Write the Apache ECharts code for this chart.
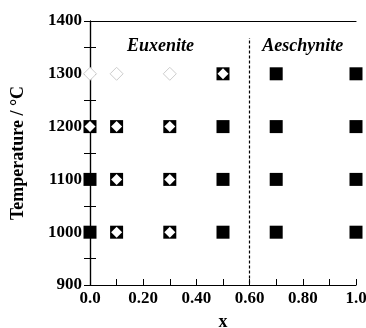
<!DOCTYPE html>
<html>
<head>
<meta charset="utf-8">
<script src="https://cdn.jsdelivr.net/npm/echarts@6/dist/echarts.min.js"></script>
<style>
  html, body { margin: 0; padding: 0; background: #fff; }
  #chart { width: 366px; height: 328px; }
</style>
</head>
<body>
<div id="chart"></div>
<script>
// single phase points (filled squares)
const filledPts = [
  [0.0, 1000], [0.0, 1100],
  [0.5, 1000], [0.5, 1100], [0.5, 1200],
  [0.7, 1000], [0.7, 1100], [0.7, 1200], [0.7, 1300],
  [1.0, 1000], [1.0, 1100], [1.0, 1200], [1.0, 1300]
]
// square with diamond
const mixedPts = [
  [0.0, 1200],
  [0.1, 1000], [0.1, 1100], [0.1, 1200],
  [0.3, 1000], [0.3, 1100], [0.3, 1200],
  [0.5, 1300]
]
// open diamonds (light)
const meltPts = [[0.0, 1300], [0.1, 1300], [0.3, 1300]]
const boundaryX = 0.6
const phaseLabels = [
  { name: 'Euxenite', coord: [0.265, 1352] },
  { name: 'Aeschynite', coord: [0.8, 1352] }
]

const font = 'Liberation Serif'
const chart = echarts.init(document.getElementById('chart'))

function axisLine() {
  return { show: true, lineStyle: { color: '#000', width: 1.2 } }
}
function tick() {
  // negative length draws the tick towards the plot
  return { show: true, length: -6, lineStyle: { color: '#000', width: 1 } }
}

const option = {
  animation: false,
  grid: { left: 90, right: 10, top: 21, bottom: 43, outerBoundsMode: 'none', containLabel: false },
  xAxis: [
    {
      type: 'value', min: 0, max: 1, interval: 0.1,
      name: 'x', nameLocation: 'middle', nameGap: 28,
      nameTextStyle: { fontFamily: font, fontWeight: 'bold', fontSize: 18, color: '#000' },
      axisLine: axisLine(), axisTick: tick(),
      splitLine: { show: false },
      axisLabel: {
        fontFamily: font, fontWeight: 'bold', fontSize: 17, color: '#000', margin: 5,
        formatter: v => {
          const k = Math.round(v * 10)
          if (k % 2) return ''
          return k === 0 ? '0.0' : (k === 10 ? '1.0' : v.toFixed(2))
        }
      }
    },
    {
      type: 'value', min: 0, max: 1, position: 'top',
      axisLine: axisLine(), axisTick: { show: false }, axisLabel: { show: false }, splitLine: { show: false }
    }
  ],
  yAxis: [
    {
      type: 'value', min: 900, max: 1400, interval: 50,
      name: 'Temperature / °C', nameLocation: 'middle', nameGap: 63,
      nameTextStyle: { fontFamily: font, fontWeight: 'bold', fontSize: 18, color: '#000' },
      axisLine: axisLine(), axisTick: tick(),
      splitLine: { show: false },
      axisLabel: {
        fontFamily: font, fontWeight: 'bold', fontSize: 17, color: '#000', margin: 8,
        formatter: v => v % 100 === 0 ? String(v) : ''
      }
    },
    {
      type: 'value', min: 900, max: 1400, interval: 50, position: 'right',
      axisLine: axisLine(), axisTick: tick(),
      axisLabel: { show: false }, splitLine: { show: false }
    }
  ],
  series: [
    {
      type: 'scatter', data: filledPts, symbol: 'rect', symbolSize: 13, clip: false, z: 5,
      itemStyle: { color: '#000', opacity: 1 }
    },
    {
      type: 'scatter', data: mixedPts, symbol: 'rect', symbolSize: 13, clip: false, z: 5,
      itemStyle: { color: '#000', opacity: 1 }
    },
    {
      type: 'scatter', data: mixedPts, symbol: 'diamond', symbolSize: 11, clip: false, z: 6,
      itemStyle: { color: '#fff', opacity: 1 }
    },
    {
      type: 'scatter', data: meltPts, symbol: 'diamond', symbolSize: 13, clip: false, z: 6,
      itemStyle: { color: '#fff', borderColor: '#ccc', borderWidth: 1, opacity: 1 },
      markLine: {
        silent: true, symbol: 'none', label: { show: false },
        lineStyle: { color: '#000', type: [3, 2], width: 1.2 },
        data: [[{ coord: [boundaryX, 903] }, { coord: [boundaryX, 1368] }]]
      },
      markPoint: {
        symbol: 'circle', symbolSize: 0,
        label: {
          show: true, position: 'inside', formatter: p => p.name,
          fontFamily: font, fontStyle: 'italic', fontWeight: 'bold', fontSize: 18, color: '#000'
        },
        data: phaseLabels
      }
    }
  ]
}
chart.setOption(option)
</script>
</body>
</html>
